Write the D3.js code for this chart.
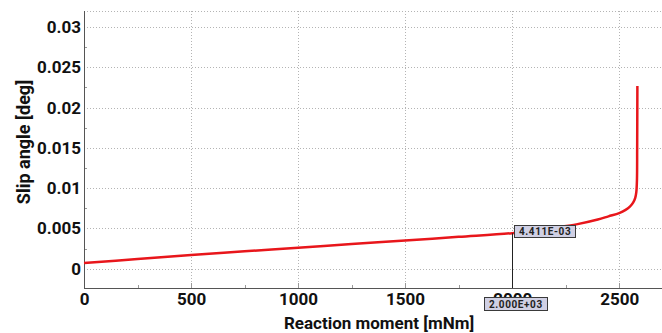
<!DOCTYPE html>
<html>
<head>
<meta charset="utf-8">
<script src="https://cdn.jsdelivr.net/npm/d3@7"></script>
<style>
  html, body { margin: 0; padding: 0; background: #fff; }
  svg { display: block; }
  text { font-family: Roboto, "Noto Sans", sans-serif; }
</style>
</head>
<body>
<svg id="chart" width="662" height="333"></svg>
<script>
// Reaction moment [mNm] vs slip angle [deg]
const momentValues = [0, 250, 500, 750, 1000, 1250, 1500, 1750, 2000, 2100, 2200, 2300, 2400, 2450, 2500, 2530, 2550, 2565, 2575, 2580, 2583, 2584, 2585];
const slipValues   = [0.0007, 0.0012, 0.0017, 0.00215, 0.0026, 0.00305, 0.0035, 0.00395, 0.004411, 0.0047, 0.0051, 0.0055, 0.0061, 0.0065, 0.0069, 0.0073, 0.0077, 0.0082, 0.0088, 0.0095, 0.011, 0.015, 0.0227];
const xTicks = [0, 500, 1000, 1500, 2000, 2500];
const yTicks = [0, 0.005, 0.01, 0.015, 0.02, 0.025, 0.03];
const xMinorTicks = [250, 750, 1250, 1750, 2250];
const yMinorTicks = [0.0025, 0.0075, 0.0125, 0.0175, 0.0225, 0.0275];
const cursorX = 2000;
const cursorY = 0.004411;

const svg = d3.select("#chart");
const plotL = 84, plotR = 662, plotT = 11, plotB = 288;

const x = d3.scaleLinear().domain([0, 2700]).range([plotL, plotR]);
const y = d3.scaleLinear().domain([-0.0024, 0.032]).range([plotB, plotT]);

// dotted grid
const grid = svg.append("g").attr("stroke", "#b4b4b4").attr("stroke-width", 1).attr("stroke-dasharray", "1,2");
grid.selectAll(".gx").data(xTicks.slice(1)).join("line")
  .attr("x1", d => Math.round(x(d)) + 0.5).attr("x2", d => Math.round(x(d)) + 0.5)
  .attr("y1", plotT).attr("y2", plotB);
grid.selectAll(".gy").data(yTicks).join("line")
  .attr("x1", plotL).attr("x2", plotR)
  .attr("y1", d => Math.round(y(d)) + 0.5).attr("y2", d => Math.round(y(d)) + 0.5);
grid.append("line").attr("x1", plotL).attr("x2", plotR).attr("y1", plotT + 0.5).attr("y2", plotT + 0.5);

// axes
const xAxis = svg.append("g").attr("transform", `translate(0,${plotB})`)
  .call(d3.axisBottom(x).tickValues(xTicks).tickSize(0).tickPadding(5).tickFormat(d3.format("d")));
xAxis.select(".domain").remove();
xAxis.selectAll("text").attr("font-size", 17).attr("font-weight", "bold").attr("fill", "#111").attr("dy", "0.72em");

const yAxis = svg.append("g").attr("transform", `translate(${plotL},0)`)
  .call(d3.axisLeft(y).tickValues(yTicks).tickSize(0).tickPadding(3).tickFormat(d => d === 0 ? "0" : String(+d.toFixed(3))));
yAxis.select(".domain").remove();
yAxis.selectAll("text").attr("font-size", 17).attr("font-weight", "bold").attr("fill", "#111");

// inner tick marks
const tk = svg.append("g").attr("stroke", "#999").attr("stroke-width", 1);
tk.selectAll(".mx").data(xMinorTicks).join("line")
  .attr("x1", d => Math.round(x(d)) + 0.5).attr("x2", d => Math.round(x(d)) + 0.5)
  .attr("y1", plotB).attr("y2", plotB - 3);
tk.selectAll(".Mx").data(xTicks.slice(1)).join("line")
  .attr("x1", d => Math.round(x(d)) + 0.5).attr("x2", d => Math.round(x(d)) + 0.5)
  .attr("y1", plotB).attr("y2", plotB - 5);
tk.selectAll(".my").data(yMinorTicks).join("line")
  .attr("x1", plotL).attr("x2", plotL + 3)
  .attr("y1", d => Math.round(y(d)) + 0.5).attr("y2", d => Math.round(y(d)) + 0.5);

// axis lines
svg.append("line").attr("x1", plotL + 0.5).attr("x2", plotL + 0.5).attr("y1", plotT).attr("y2", plotB + 0.5)
  .attr("stroke", "#555").attr("stroke-width", 1);
svg.append("line").attr("x1", plotL).attr("x2", plotR).attr("y1", plotB + 0.5).attr("y2", plotB + 0.5)
  .attr("stroke", "#555").attr("stroke-width", 1);

// axis titles
svg.append("text").attr("x", 379).attr("y", 329)
  .attr("text-anchor", "middle").attr("font-size", 17).attr("font-weight", "bold").attr("fill", "#111")
  .text("Reaction moment [mNm]");
svg.append("text").attr("transform", `translate(30,142) rotate(-90)`)
  .attr("text-anchor", "middle").attr("font-size", 18).attr("font-weight", "bold").attr("fill", "#111")
  .text("Slip angle [deg]");

// curve
svg.append("path").datum(slipValues)
  .attr("d", d3.line().x((d, i) => x(momentValues[i])).y(d => y(d)).curve(d3.curveCatmullRom.alpha(0.5)))
  .attr("fill", "none").attr("stroke", "#e8161b").attr("stroke-width", 2.5);

// cursor
svg.append("line")
  .attr("x1", Math.round(x(cursorX)) + 0.5).attr("x2", Math.round(x(cursorX)) + 0.5)
  .attr("y1", y(cursorY)).attr("y2", plotB)
  .attr("stroke", "#222").attr("stroke-width", 1);

function sci(v) {
  // 4.411e-3 -> 4.411E-03
  const [m, e] = v.toExponential(3).split("e");
  const sign = e[0] === "-" ? "-" : "+";
  const mag = e.replace(/^[+-]/, "").padStart(2, "0");
  return `${m}E${sign}${mag}`;
}

function tag(cx, cy, h, label) {
  const g = svg.append("g");
  const t = g.append("text").attr("x", cx + 5).attr("y", cy + h / 2 + 4)
    .attr("font-size", 10).attr("font-weight", "bold").attr("fill", "#222")
    .attr("letter-spacing", 0.6)
    .text(label);
  const w = t.node().getComputedTextLength();
  g.insert("rect", "text").attr("x", cx + 0.5).attr("y", cy + 0.5).attr("width", Math.round(w + 9)).attr("height", h)
    .attr("fill", "#d0d0e4").attr("stroke", "#3a3a3a").attr("stroke-width", 1);
}
tag(Math.round(x(cursorX)) + 2, 225, 12, sci(cursorY));
tag(Math.round(x(cursorX)) - 28, 297, 13, sci(cursorX));
</script>
</body>
</html>
